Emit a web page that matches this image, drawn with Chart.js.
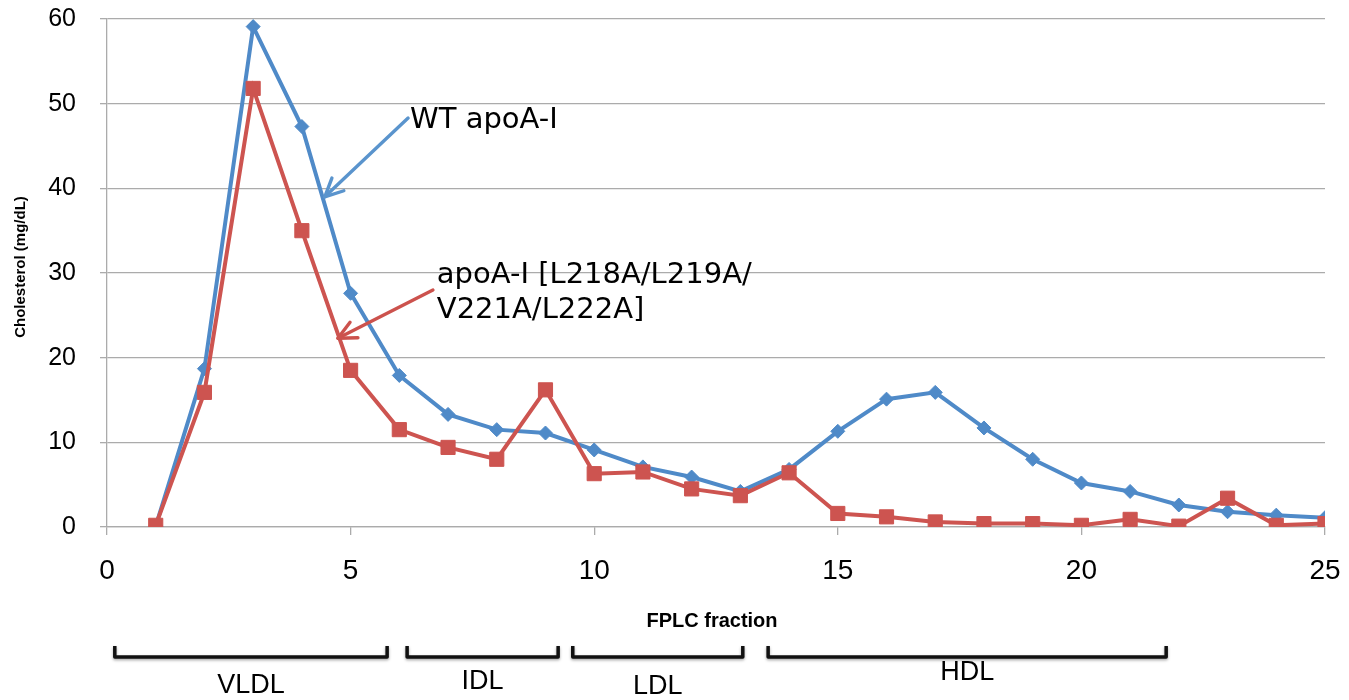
<!DOCTYPE html>
<html>
<head>
<meta charset="utf-8">
<title>FPLC cholesterol profile</title>
<script src="https://cdn.jsdelivr.net/npm/chart.js@4.4.1/dist/chart.umd.min.js"></script>
<style>
  html, body { margin: 0; padding: 0; background: #fff; }
  #wrap { width: 1349px; height: 700px; }
</style>
</head>
<body>
<div id="wrap"><canvas id="c" width="1349" height="700"></canvas></div>
<script>
// ---- data ----
var fractions = [1, 2, 3, 4, 5, 6, 7, 8, 9, 10, 11, 12, 13, 14, 15, 16, 17, 18, 19, 20, 21, 22, 23, 24, 25];
var wtApoAI = [0.1, 18.7, 59.1, 47.3, 27.6, 17.9, 13.3, 11.5, 11.1, 9.1, 7.1, 5.9, 4.2, 6.8, 11.3, 15.1, 15.9, 11.7, 8.0, 5.2, 4.2, 2.6, 1.8, 1.4, 1.1];
var mutApoAI = [0.2, 15.9, 51.8, 35.0, 18.5, 11.5, 9.4, 8.0, 16.2, 6.3, 6.5, 4.5, 3.7, 6.4, 1.6, 1.2, 0.6, 0.4, 0.4, 0.2, 0.9, 0.1, 3.4, 0.2, 0.4];
var xTicks = [0, 5, 10, 15, 20, 25];
var yTicks = [0, 10, 20, 30, 40, 50, 60];

// lipoprotein brackets under the axis (in fraction units)
var bracketNames = ["VLDL", "IDL", "LDL", "HDL"];
var bracketFrom = [0.16, 6.16, 9.56, 13.57];
var bracketTo = [5.75, 9.26, 13.05, 21.74];

var BLUE = "#4f8ac8", RED = "#cd5450", GRID = "#ababab";

function pts(ys) { return fractions.map(function (f, i) { return { x: f, y: ys[i] }; }); }

// arrow with an open V head
function arrow(ctx, x1, y1, x2, y2, color) {
  var a = Math.atan2(y2 - y1, x2 - x1), h = 20, s = 0.45;
  ctx.save();
  ctx.strokeStyle = color; ctx.lineWidth = 3.4; ctx.lineCap = "round"; ctx.lineJoin = "round";
  ctx.beginPath(); ctx.moveTo(x1, y1); ctx.lineTo(x2, y2); ctx.stroke();
  ctx.beginPath();
  ctx.moveTo(x2 - h * Math.cos(a - s), y2 - h * Math.sin(a - s));
  ctx.lineTo(x2, y2);
  ctx.lineTo(x2 - h * Math.cos(a + s), y2 - h * Math.sin(a + s));
  ctx.stroke();
  ctx.restore();
}

var extras = {
  id: "extras",
  afterDraw: function (chart) {
    var ctx = chart.ctx, X = chart.scales.x, Y = chart.scales.y, area = chart.chartArea;
    function px(v) { return X.getPixelForValue(v); }
    function py(v) { return Y.getPixelForValue(v); }

    // y axis title
    ctx.save();
    ctx.fillStyle = "#000";
    ctx.font = "bold 15px 'Liberation Sans', Arial, sans-serif";
    ctx.textAlign = "center"; ctx.textBaseline = "middle";
    ctx.translate(21, 267); ctx.rotate(-Math.PI / 2);
    ctx.fillText("Cholesterol (mg/dL)", 0, 0);
    ctx.restore();

    // x axis title
    ctx.save();
    ctx.fillStyle = "#000";
    ctx.font = "bold 20px 'Liberation Sans', Arial, sans-serif";
    ctx.textAlign = "center"; ctx.textBaseline = "middle";
    ctx.fillText("FPLC fraction", 712, area.bottom + 94);
    ctx.restore();

    // brackets
    var labelDy = [159, 155, 160, 146];
    ctx.save();
    ctx.strokeStyle = "#111"; ctx.lineWidth = 3.5; ctx.lineJoin = "round";
    ctx.shadowColor = "rgba(0,0,0,0.35)"; ctx.shadowBlur = 3; ctx.shadowOffsetY = 1.5;
    bracketNames.forEach(function (n, i) {
      var l = px(bracketFrom[i]), r = px(bracketTo[i]), yb = area.bottom + 130, yt = area.bottom + 119;
      ctx.beginPath(); ctx.moveTo(l, yt); ctx.lineTo(l, yb); ctx.lineTo(r, yb); ctx.lineTo(r, yt); ctx.stroke();
    });
    ctx.shadowColor = "transparent";
    ctx.fillStyle = "#000";
    ctx.font = "27px 'Liberation Sans', Arial, sans-serif";
    ctx.textAlign = "center"; ctx.textBaseline = "middle";
    bracketNames.forEach(function (n, i) {
      var mid = (px(bracketFrom[i]) + px(bracketTo[i])) / 2;
      ctx.fillText(n, mid, area.bottom + labelDy[i]);
    });
    ctx.restore();

    // series labels and arrows
    ctx.save();
    ctx.fillStyle = "#000";
    ctx.font = "29px 'DejaVu Sans', Verdana, sans-serif";
    ctx.textAlign = "left"; ctx.textBaseline = "alphabetic";
    ctx.fillText("WT apoA-I", px(6.22), py(47.1));
    ctx.fillText("apoA-I [L218A/L219A/", px(6.77), py(28.8));
    ctx.fillText("V221A/L222A]", px(6.77), py(24.7));
    ctx.restore();
    arrow(ctx, px(6.18), py(48.3), px(4.47), py(39.0), "#5a94cd");
    arrow(ctx, px(6.69), py(28.0), px(4.74), py(22.3), "#cc524d");
  }
};

new Chart(document.getElementById("c"), {
  type: "line",
  data: {
    datasets: [
      {
        label: "apoA-I [L218A/L219A/V221A/L222A]", data: pts(mutApoAI), order: 0,
        borderColor: RED, backgroundColor: RED, borderWidth: 4,
        pointStyle: "rect", pointRadius: 10, pointBorderWidth: 1, pointBorderColor: RED, pointBackgroundColor: RED, tension: 0
      },
      {
        label: "WT apoA-I", data: pts(wtApoAI), order: 1,
        borderColor: BLUE, backgroundColor: BLUE, borderWidth: 4,
        pointStyle: "rectRot", pointRadius: 7, pointBorderWidth: 1, pointBorderColor: BLUE, pointBackgroundColor: BLUE, tension: 0
      }
    ]
  },
  options: {
    responsive: false, animation: false, devicePixelRatio: 1,
    layout: { padding: { left: 0, right: 24, top: 19, bottom: 0 } },
    plugins: { legend: { display: false }, tooltip: { enabled: false } },
    scales: {
      x: {
        type: "linear", min: 0, max: 25,
        // fixed axis box; label overhang is covered by layout padding
        afterFit: function (s) { s.height = 173; s.paddingLeft = 0; s.paddingRight = 0; },
        afterBuildTicks: function (s) { s.ticks = xTicks.map(function (v) { return { value: v }; }); },
        grid: { drawOnChartArea: false, drawTicks: true, tickLength: 8, color: GRID, lineWidth: 1.3 },
        border: { display: true, color: GRID, width: 1.3 },
        ticks: { color: "#000", padding: 19, maxRotation: 0, font: { family: "'Liberation Sans', Arial, sans-serif", size: 28 } }
      },
      y: {
        min: 0, max: 60,
        afterFit: function (s) { s.width = 107; s.paddingTop = 0; s.paddingBottom = 0; },
        afterBuildTicks: function (s) { s.ticks = yTicks.map(function (v) { return { value: v }; }); },
        grid: { color: GRID, lineWidth: 1.3, drawTicks: true, tickLength: 7 },
        border: { display: true, color: GRID, width: 1.3 },
        ticks: { color: "#000", padding: 24, font: { family: "'Liberation Sans', Arial, sans-serif", size: 25 } }
      }
    }
  },
  plugins: [extras]
});
</script>
</body>
</html>
